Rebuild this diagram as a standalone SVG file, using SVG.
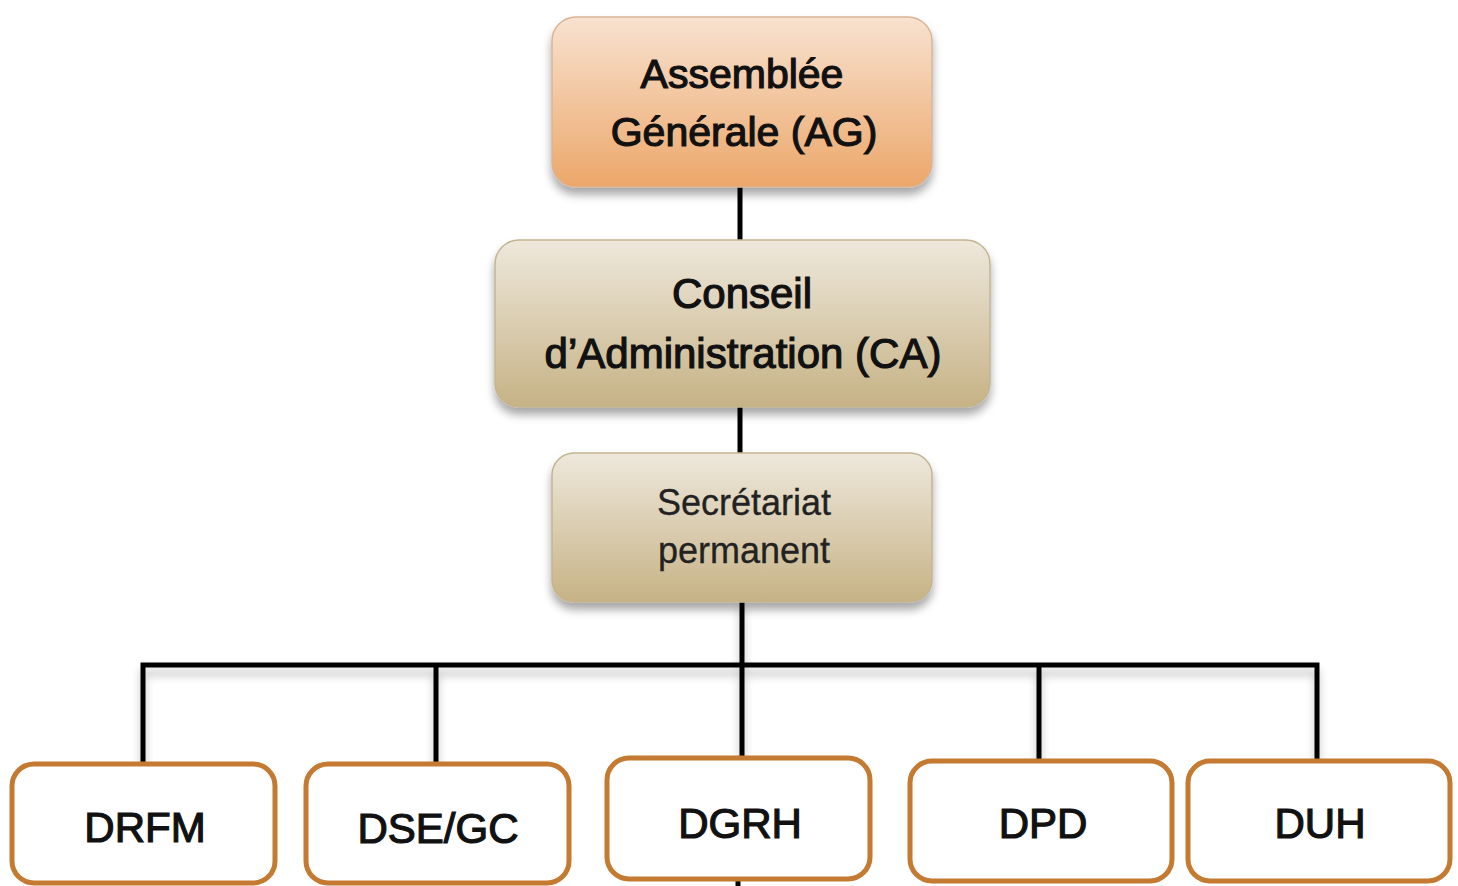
<svg xmlns="http://www.w3.org/2000/svg" width="1458" height="886" viewBox="0 0 1458 886">
  <defs>
    <linearGradient id="gOrange" x1="0" y1="0" x2="0" y2="1">
      <stop offset="0" stop-color="#f8e2d0"/>
      <stop offset="1" stop-color="#eca76a"/>
    </linearGradient>
    <linearGradient id="gTan" x1="0" y1="0" x2="0" y2="1">
      <stop offset="0" stop-color="#eee8dc"/>
      <stop offset="1" stop-color="#c6b285"/>
    </linearGradient>
    <filter id="shadow" x="-10%" y="-10%" width="120%" height="140%">
      <feGaussianBlur in="SourceAlpha" stdDeviation="5"/>
      <feOffset dx="0" dy="7" result="b"/>
      <feComponentTransfer><feFuncA type="linear" slope="0.35"/></feComponentTransfer>
      <feMerge><feMergeNode/><feMergeNode in="SourceGraphic"/></feMerge>
    </filter>
    <filter id="lshadow" x="-5%" y="-100%" width="110%" height="400%">
      <feGaussianBlur in="SourceAlpha" stdDeviation="4"/>
      <feOffset dx="0" dy="8" result="b"/>
      <feComponentTransfer><feFuncA type="linear" slope="0.25"/></feComponentTransfer>
      <feMerge><feMergeNode/><feMergeNode in="SourceGraphic"/></feMerge>
    </filter>
  </defs>
  <style>
    .top { stroke-width: 1.5; filter: url(#shadow); }
    .leaf { fill: #ffffff; stroke: #c47a30; stroke-width: 5; }
    .lbl { font-family: "Liberation Sans", Arial, sans-serif; fill: #111; stroke: #111; stroke-width: 1.2; text-anchor: middle; }
    .lblr { font-family: "Liberation Sans", Arial, sans-serif; fill: #222; stroke: #222; stroke-width: 0.3; text-anchor: middle; }
    .conn { stroke: #000; stroke-width: 5; fill: none; }
  </style>
  <rect width="1458" height="886" fill="#ffffff"/>

  <g id="connectors">
    <line class="conn" x1="740" y1="185" x2="740" y2="242"/>
    <line class="conn" x1="740" y1="405" x2="740" y2="456"/>
    <g filter="url(#lshadow)">
      <line class="conn" x1="742" y1="600" x2="742" y2="665"/>
      <path class="conn" d="M143,763 V665 H1317 V762"/>
      <line class="conn" x1="436" y1="665" x2="436" y2="764"/>
      <line class="conn" x1="742" y1="665" x2="742" y2="758"/>
      <line class="conn" x1="1039" y1="665" x2="1039" y2="761"/>
    </g>
    <line class="conn" x1="738" y1="880" x2="738" y2="886" stroke-width="3"/>
  </g>

  <g id="ag">
    <rect class="top" x="552" y="17" width="380" height="170" rx="24" fill="url(#gOrange)" stroke="#d9b597"/>
    <text class="lbl" x="742" y="88" font-size="41">Assemblée</text>
    <text class="lbl" x="744" y="146" font-size="41">Générale (AG)</text>
  </g>

  <g id="ca">
    <rect class="top" x="495" y="240" width="495" height="167" rx="24" fill="url(#gTan)" stroke="#c3b592"/>
    <text class="lbl" x="742" y="308" font-size="42">Conseil</text>
    <text class="lbl" x="743" y="368" font-size="42">d’Administration (CA)</text>
  </g>

  <g id="sp">
    <rect class="top" x="552" y="453" width="380" height="149" rx="22" fill="url(#gTan)" stroke="#c3b592"/>
    <text class="lblr" x="744" y="515" font-size="36">Secrétariat</text>
    <text class="lblr" x="744" y="563" font-size="36">permanent</text>
  </g>

  <g id="drfm">
    <rect class="leaf" x="12" y="764" width="263" height="119" rx="22"/>
    <text class="lbl" x="145" y="842" font-size="42">DRFM</text>
  </g>
  <g id="dsegc">
    <rect class="leaf" x="306" y="764" width="263" height="119" rx="22"/>
    <text class="lbl" x="438" y="843" font-size="42">DSE/GC</text>
  </g>
  <g id="dgrh">
    <rect class="leaf" x="607" y="758" width="263" height="121" rx="22"/>
    <text class="lbl" x="740" y="838" font-size="42">DGRH</text>
  </g>
  <g id="dpd">
    <rect class="leaf" x="910" y="761" width="262" height="120" rx="22"/>
    <text class="lbl" x="1043" y="838" font-size="42">DPD</text>
  </g>
  <g id="duh">
    <rect class="leaf" x="1188" y="761" width="262" height="120" rx="22"/>
    <text class="lbl" x="1320" y="838" font-size="42">DUH</text>
  </g>
</svg>
